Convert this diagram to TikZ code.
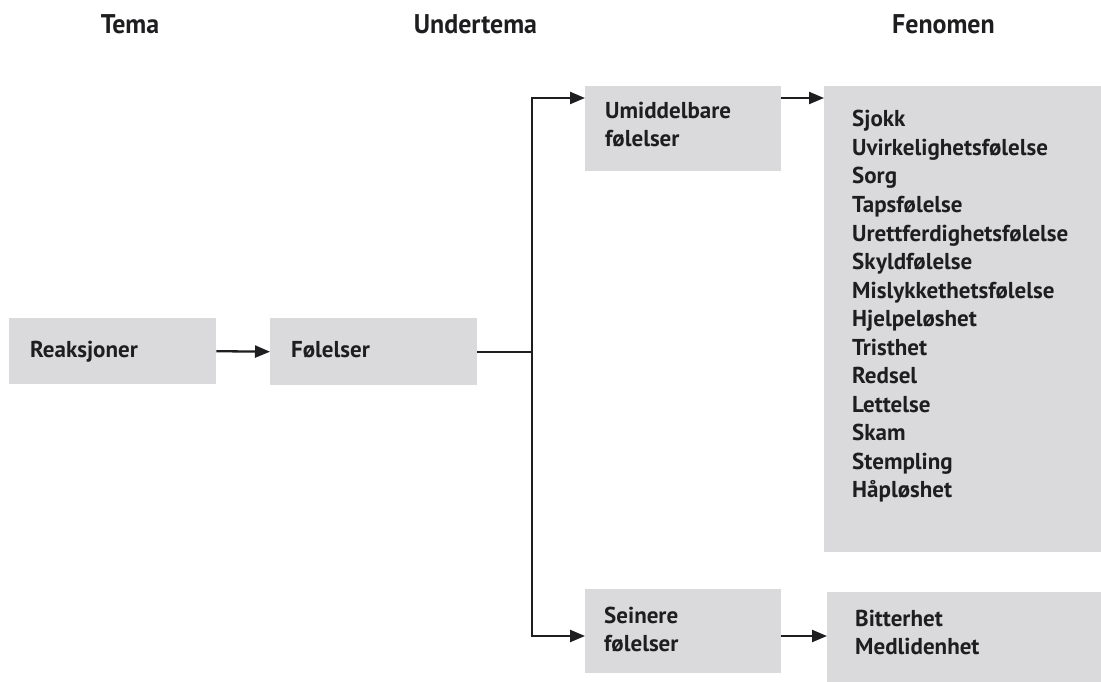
\documentclass[tikz,border=0pt]{standalone}
\usepackage{fontspec}
\setmainfont{PT Sans}
\newfontfamily\headfont[FakeStretch=0.96]{PT Sans}
\usetikzlibrary{arrows.meta,calc}

\definecolor{boxgray}{RGB}{218,218,220}
\definecolor{ink}{RGB}{30,30,32}

\tikzset{
  panel/.style={fill=boxgray, draw=none, inner sep=0pt, anchor=north west},
  lbl/.style={text=ink, font=\bfseries\fontsize{23}{27}\selectfont, inner sep=0pt, anchor=base west},
  head/.style={text=ink, font=\headfont\bfseries\fontsize{27}{32}\selectfont, inner sep=0pt, anchor=base},
  wire/.style={draw=ink, line width=2.3pt},
  arr/.style={wire, -{Triangle[length=15pt,width=12pt]}},
  darr/.style={wire, {Triangle[length=15pt,width=12pt]}-{Triangle[length=15pt,width=12pt]}, line join=miter}
}

\begin{document}
\begin{tikzpicture}[x=1pt,y=-1pt]
\useasboundingbox (0,0) rectangle (1101,682);

% column headings
\node[head] (h1) at (130,34) {Tema};
\node[head] (h2) at (475.5,34) {Undertema};
\node[head] (h3) at (943.5,34) {Fenomen};

% grey panels
\node[panel, minimum width=207pt, minimum height=66pt] (rea) at (9,318) {};
\node[panel, minimum width=207pt, minimum height=67pt] (fol) at (270,318) {};
\node[panel, minimum width=196pt, minimum height=85pt] (umi) at (585,86) {};
\node[panel, minimum width=196pt, minimum height=84pt] (sei) at (585,589) {};
\node[panel, minimum width=277pt, minimum height=466pt] (fen) at (824,86) {};
\node[panel, minimum width=274pt, minimum height=90pt] (bit) at (827,592) {};

% panel texts
\node[lbl] (rea-t) at ($(rea.north west)+(21,39)$) {Reaksjoner};
\node[lbl] (fol-t) at ($(fol.north west)+(21,39)$) {Følelser};
\node[lbl] (umi-t1) at ($(umi.north west)+(20,33)$) {Umiddelbare};
\node[lbl] (umi-t2) at ($(umi.north west)+(20,61)$) {følelser};
\node[lbl] (sei-t1) at ($(sei.north west)+(19,34)$) {Seinere};
\node[lbl] (sei-t2) at ($(sei.north west)+(19,62)$) {følelser};
\node[lbl] (bit-t1) at ($(bit.north west)+(28,34)$) {Bitterhet};
\node[lbl] (bit-t2) at ($(bit.north west)+(28,62)$) {Medlidenhet};

\foreach \w [count=\i from 0] in {Sjokk, Uvirkelighetsfølelse, Sorg, Tapsfølelse,
    Urettferdighetsfølelse, Skyldfølelse, Mislykkethetsfølelse, Hjelpeløshet,
    Tristhet, Redsel, Lettelse, Skam, Stempling, Håpløshet}
  \node[lbl] (fen-\i) at ($(fen.north west)+(28,41+28.5*\i)$) {\w};

% connectors
\coordinate (jt) at (532,98);
\coordinate (jb) at (532,636);
\draw[arr] (rea.east) -- (fol.west);
\draw[wire] (fol.east) -- (fol.east -| jt);
\draw[darr] (jt -| umi.west) -- (jt) -- (jb) -- (jb -| sei.west);
\draw[arr] (jt -| umi.east) -- (jt -| fen.west);
\draw[arr] (jb -| sei.east) -- (jb -| bit.west);
\end{tikzpicture}
\end{document}
